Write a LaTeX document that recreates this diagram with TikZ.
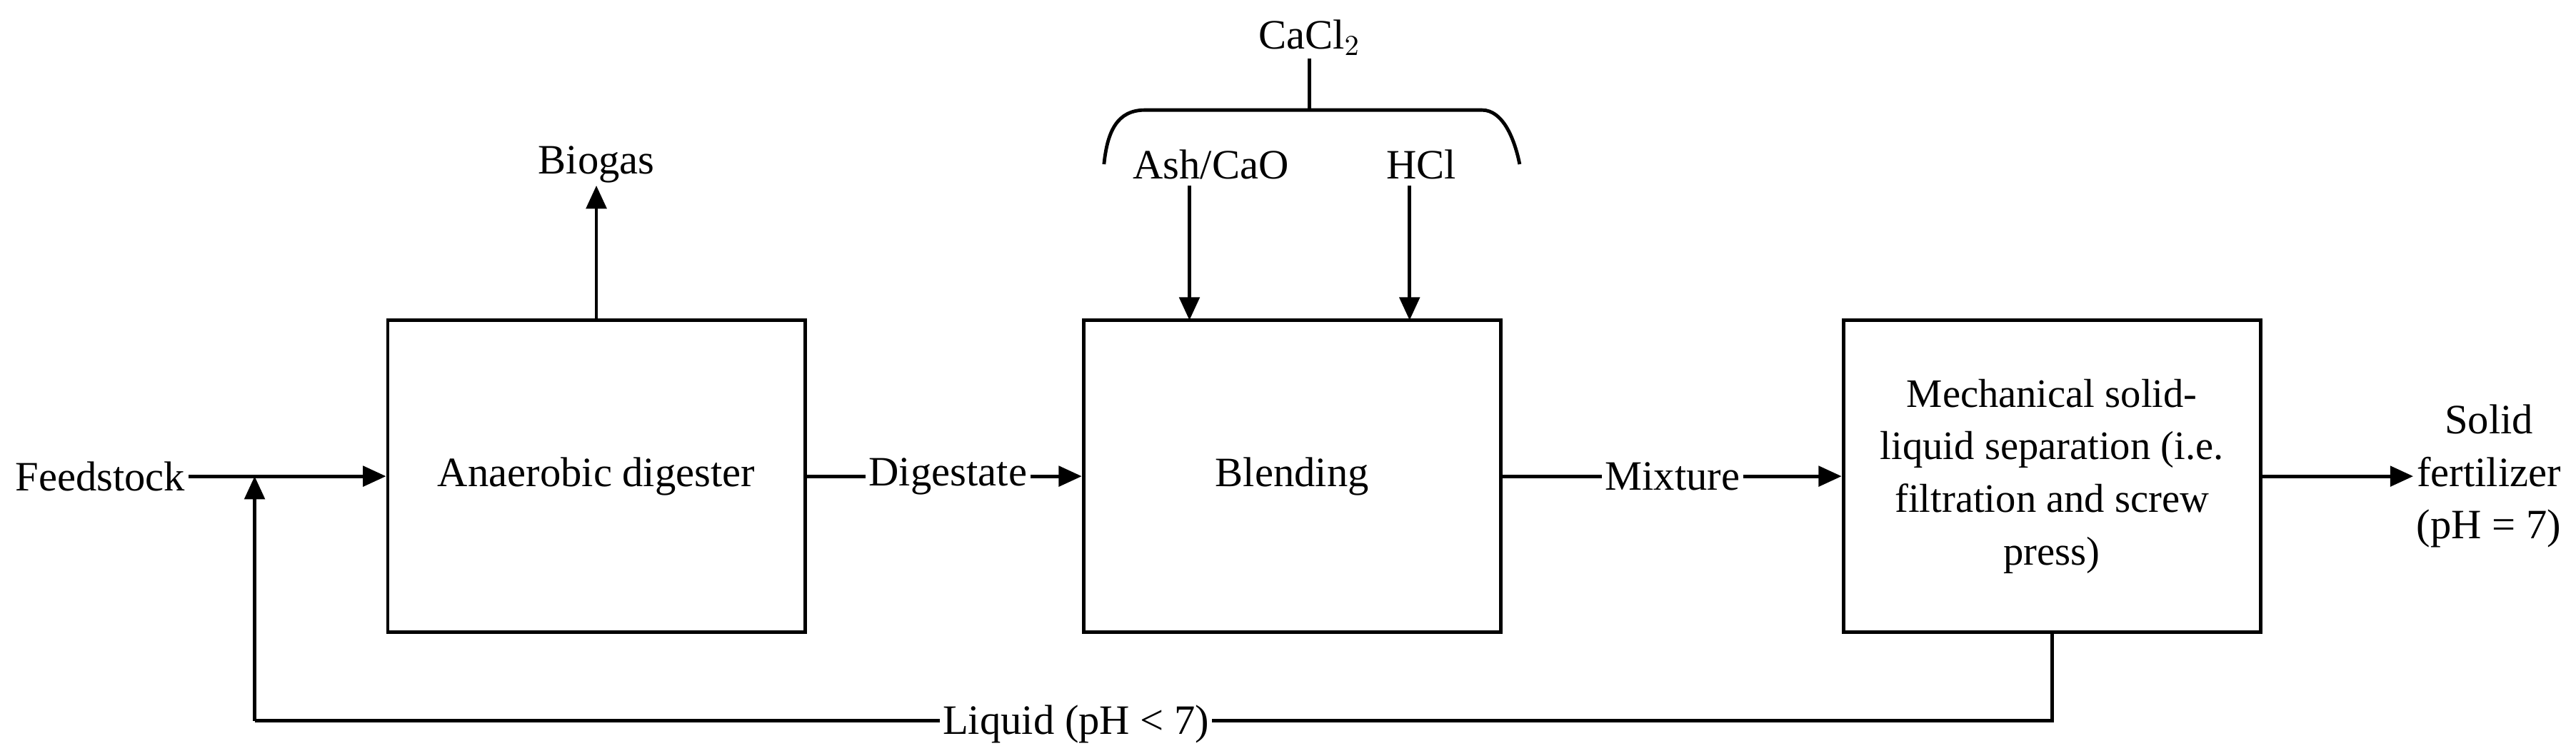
\documentclass[tikz,border=0pt]{standalone}
\usepackage{fontspec}
\setmainfont{Liberation Serif}
\usetikzlibrary{arrows.meta}
\begin{document}
\begin{tikzpicture}[x=0.02cm,y=-0.02cm,
  box/.style={draw,line width=1.2pt,minimum width=5.08cm,minimum height=3.8cm,align=center,inner sep=1pt,font=\fontsize{14.5}{18.2}\selectfont},
  lab/.style={font=\fontsize{14.5}{18.2}\selectfont,align=center,inner sep=1pt},
  arr/.style={line width=1.2pt,-{Triangle[length=8pt,width=7pt]}},
  ln/.style={line width=1.2pt}]
\useasboundingbox (0,0) rectangle (1568,460);
\node[box] (ad) at (363,290) {Anaerobic digester};
\node[box] (bl) at (786.5,290) {Blending};
\node[box,font=\fontsize{14}{18.2}\selectfont] (ms) at (1249,290) {Mechanical solid-\\liquid separation (i.e.\\filtration and screw\\press)};
\node[lab] (fs) at (61,290) {Feedstock};
\node[lab] (bg) at (363,100) {Biogas};
\node[lab,fill=white] (dg) at (577,290) {Digestate};
\node[lab,fill=white] (mx) at (1018,290) {Mixture};
\node[lab] (sf) at (1515,290) {Solid\\fertilizer\\(pH = 7)};
\node[lab] (ash) at (737,100) {Ash/CaO};
\node[lab] (hcl) at (865,100) {HCl};
\node[lab] (cc) at (797,23) {CaCl$_2$};
\coordinate (j) at (155,290);
\coordinate (c1) at (1249,439);
\coordinate (c2) at (155,439);
\draw[arr] (fs.east |- ad.west) -- (ad.west);
\draw[arr] (ad.north) -- (363,113);
\draw[ln] (ad.east) -- (dg.west |- ad.east);
\draw[arr] (dg.east |- bl.west) -- (bl.west);
\draw[ln] (bl.east) -- (mx.west |- bl.east);
\draw[arr] (mx.east |- ms.west) -- (ms.west);
\draw[arr] (ms.east) -- (sf.west |- ms.east);
\draw[arr] (724,113) -- (724,195);
\draw[arr] (858,113) -- (858,195);
\draw[ln] (672,100) .. controls (674,80) and (680,67) .. (697,67) -- (902,67) .. controls (915,67) and (922,85) .. (925,100);
\draw[ln] (797,67) -- (cc.south);
\draw[ln] (ms.south) -- (c1) -- (c2);
\draw[arr] (c2) -- (j);
\node[lab,fill=white] (lq) at (655,441) {Liquid (pH < 7)};
\end{tikzpicture}
\end{document}
